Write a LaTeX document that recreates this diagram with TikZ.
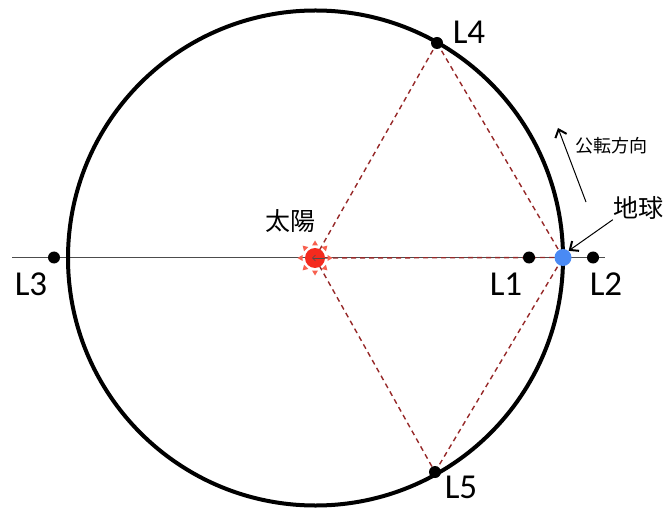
\documentclass[tikz,border=0pt]{standalone}
\usepackage{fontspec}
\setmainfont{Carlito}
\newfontfamily\cjk{Noto Sans CJK JP}
\usetikzlibrary{arrows.meta}
\definecolor{sunc}{HTML}{F42A1E}
\definecolor{rayc}{HTML}{F7604F}
\definecolor{earthc}{HTML}{4A8AF4}
\definecolor{linkc}{HTML}{962828}

\begin{document}
\begin{tikzpicture}[x=1pt, y=-1pt,
  pt/.style={circle, fill=black, inner sep=0pt, minimum size=12pt},
  lab/.style={inner sep=0pt, font=\fontsize{35}{35}\selectfont},
  jp/.style={inner sep=0pt, font=\cjk\fontsize{25}{25}\selectfont},
  link/.style={draw=linkc, line width=1.4pt, dash pattern=on 5pt off 4pt},
  ar/.style={-{Straight Barb[length=7pt, width=12pt, line width=2pt]}, line width=1pt}]
\useasboundingbox (0,0) rectangle (668,510);
% positions
\coordinate (O) at (315.5,258);
\coordinate (sunp) at (315,258);
\coordinate (earthp) at (563,257.5);
\coordinate (p1) at (529,257.5);
\coordinate (p2) at (593,257.5);
\coordinate (p3) at (54,257.5);
\coordinate (p4) at (437,43);
\coordinate (p5) at (435,472);
\coordinate (xl) at (12,257.5);
\coordinate (xr) at (605,257.5);
% axis, triangles, orbit
\draw[line width=0.8pt, black!70] (xl) -- (xr);
\foreach \a/\b in {sunp/p4,p4/earthp,sunp/p5,p5/earthp,sunp/earthp}\draw[link] (\a)--(\b);
\draw[line width=4pt] (O) circle[radius=247.5];
% points
\foreach \i in {1,...,5}\node[pt] (L\i) at (p\i) {};
\node[lab] (t1) at (506,284) {L1};
\node[lab] (t2) at (606,284) {L2};
\node[lab] (t3) at (31,284) {L3};
\node[lab] (t4) at (469,32) {L4};
\node[lab] (t5) at (461,487) {L5};
% sun
\foreach \a in {0,45,...,315}
  \fill[rayc, shift={(sunp)}, rotate=\a] (12.5,-3) -- (12.5,3) -- (17.5,0) -- cycle;
\node[circle, fill=sunc, inner sep=0pt, minimum size=20pt] (sun) at (sunp) {};
\draw[-{Straight Barb[length=3pt, width=6pt]}, black!70, line width=0.6pt] (sun.east) -- ([xshift=-3pt]sun.center);
\node[jp] (tsun) at (290,221) {太陽};
% earth
\node[circle, fill=earthc, inner sep=0pt, minimum size=17pt] (earth) at (earthp) {};
\node[jp] (tearth) at (638,208) {地球};
\draw[ar] (tearth.south west) -- (earth.50);
% revolution
\coordinate (rv0) at (586,202);
\coordinate (rv1) at (558,128);
\draw[ar] (rv0) -- (rv1);
\node[inner sep=0pt, font=\cjk\fontsize{18}{18}\selectfont] (trev) at (611,146) {公転方向};
\end{tikzpicture}
\end{document}
